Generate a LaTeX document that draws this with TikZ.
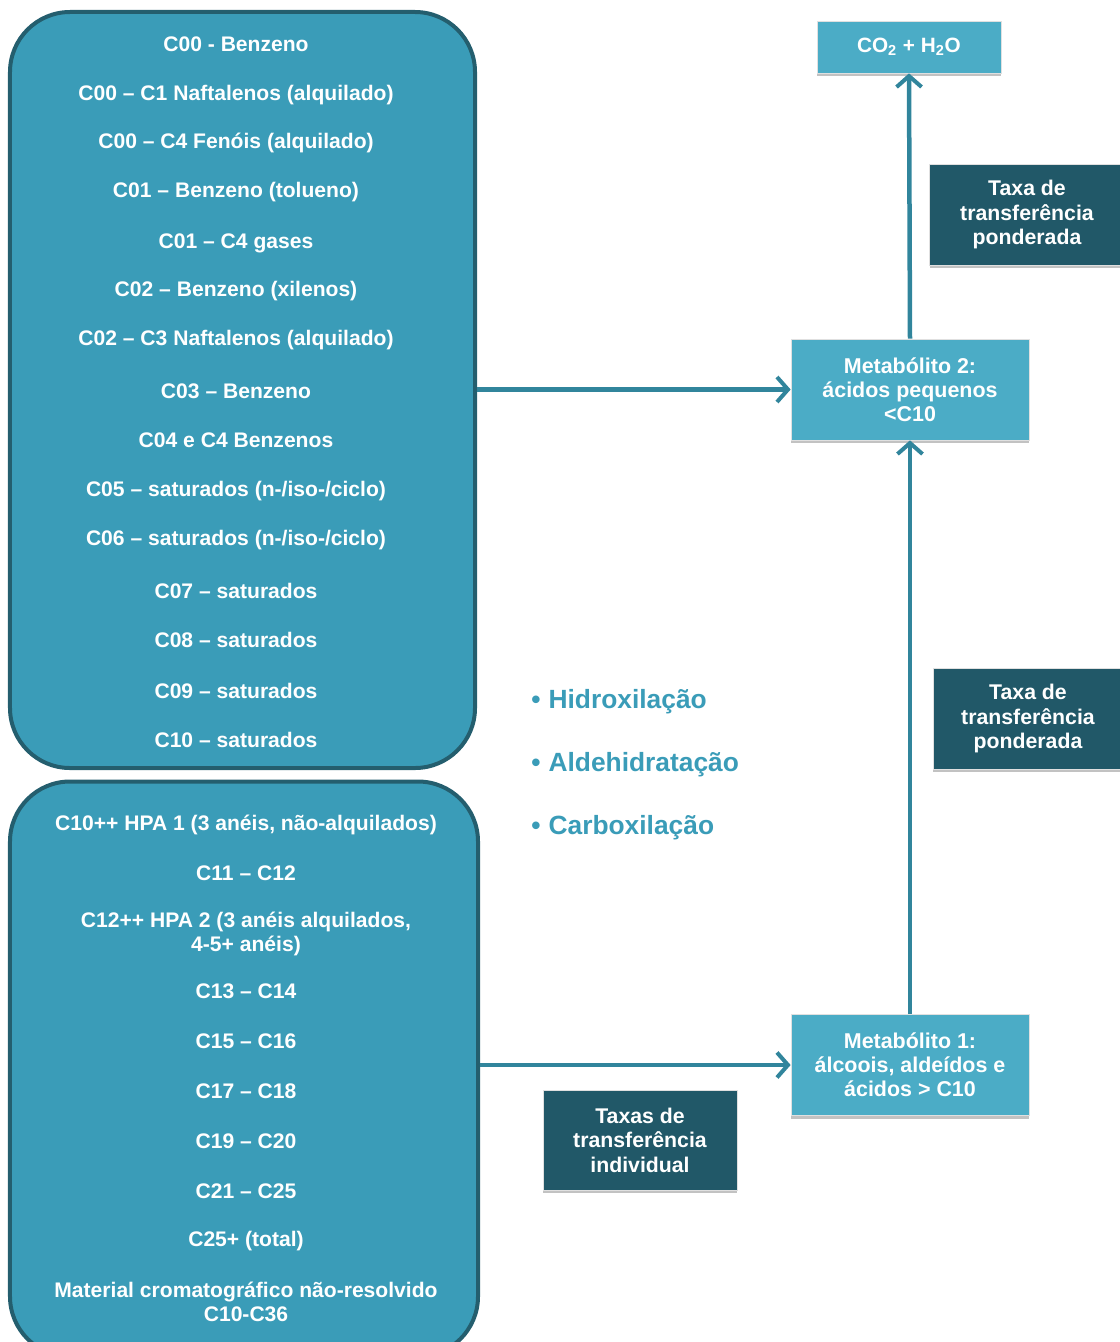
\documentclass[tikz,border=0pt]{standalone}
\usepackage{fontspec}
\setmainfont{Liberation Sans}
\usetikzlibrary{positioning,arrows.meta,shadows}
\definecolor{grpfill}{HTML}{3A9CB8}
\definecolor{grpline}{HTML}{245E6E}
\definecolor{metfill}{HTML}{4BACC6}
\definecolor{taxfill}{HTML}{215868}
\definecolor{flow}{HTML}{31859C}
\definecolor{bultxt}{HTML}{3A9CB8}
\tikzset{
  grpbox/.style ={draw=grpline, line width=0.8mm, rounded corners=12mm, fill=grpfill},
  item/.style   ={font=\fontsize{12}{13.6}\selectfont\bfseries, text=white, align=center, inner sep=0pt},
  met/.style    ={draw=white!88!black, line width=0.4pt, fill=metfill, text=white, align=center,
                  font=\fontsize{12.2}{13.6}\selectfont\bfseries,
                  drop shadow={shadow xshift=0pt, shadow yshift=-0.6mm, fill=black!40, opacity=0.6}},
  tax/.style    ={draw=white!88!black, line width=0.4pt, fill=taxfill, text=white, align=center,
                  font=\fontsize{12.1}{14}\selectfont\bfseries,
                  drop shadow={shadow xshift=0pt, shadow yshift=-0.6mm, fill=black!40, opacity=0.6}},
  bul/.style    ={font=\fontsize{15}{18}\selectfont\bfseries, text=bultxt, anchor=west, inner sep=0pt},
  flowarr/.style={-{Straight Barb[length=2.2mm, width=5mm, line width=0.8mm]}, line width=0.9mm, draw=flow},
}

\begin{document}
\begin{tikzpicture}[x=0.2mm, y=-0.2mm]
  \useasboundingbox (0,0) rectangle (1120,1342);

  % ---- left groups ----
  \node[grpbox, minimum width=93mm, minimum height=151.2mm] (upper) at (242.5,390) {};
  \node[grpbox, minimum width=93.6mm, minimum height=115mm] (lower) at (244,1069) {};

  \foreach \y/\t [count=\i] in {44/C00 - Benzeno,
      95/C00 -- C1 Naftalenos (alquilado),
      143/C00 -- C4 Fenóis (alquilado),
      192/C01 -- Benzeno (tolueno),
      243/C01 -- C4 gases,
      291/C02 -- Benzeno (xilenos),
      340/C02 -- C3 Naftalenos (alquilado),
      391/C03 -- Benzeno,
      440/C04 e C4 Benzenos,
      491/{C05 -- saturados (n-/iso-/ciclo)},
      540/{C06 -- saturados (n-/iso-/ciclo)},
      591/C07 -- saturados,
      640/C08 -- saturados,
      691/C09 -- saturados,
      740/C10 -- saturados}
    \node[item] (u\i) at (236,\y) {\t};

  \foreach \y/\t [count=\i] in {825/{C10++ HPA 1 (3 anéis, não-alquilados)},
      873/C11 -- C12,
      933.5/{C12++ HPA 2 (3 anéis alquilados,\\4-5+ anéis)},
      991/C13 -- C14,
      1041/C15 -- C16,
      1091/C17 -- C18,
      1141/C19 -- C20,
      1191/C21 -- C25,
      1241/C25+ (total),
      1302/{Material cromatográfico não-resolvido\\C10-C36}}
    \node[item] (l\i) at (246,\y) {\t};

  % ---- metabolites ----
  \node[met, font=\fontsize{11.8}{13}\selectfont\bfseries,
        minimum width=36.8mm, minimum height=10.4mm] (co2) at (909,47)
      {CO\textsubscript{2} + H\textsubscript{2}O};
  \node[met, minimum width=47.6mm, minimum height=20.2mm] (met2) at (910,389.5)
      {Metabólito 2:\\ácidos pequenos\\<C10};
  \node[met, minimum width=47.6mm, minimum height=20.2mm] (met1) at (910,1065)
      {Metabólito 1:\\álcoois, aldeídos e\\ácidos > C10};

  % ---- transfer rates ----
  \node[tax, minimum width=39mm, minimum height=20.2mm] (taxtop) at (1027,214.5)
      {Taxa de\\transferência\\ponderada};
  \node[tax, minimum width=38mm, minimum height=20.2mm] (taxmid) at (1028,718.5)
      {Taxa de\\transferência\\ponderada};
  \node[tax, minimum width=38.8mm, minimum height=20mm] (taxind) at (640,1140)
      {Taxas de\\transferência\\individual};

  % ---- processes ----
  \node[bul] (hidrox) at (531,702) {•\hspace{1.6mm}Hidroxilação};
  \node[bul] (aldeh)  at (531,765) {•\hspace{1.6mm}Aldehidratação};
  \node[bul] (carbox) at (531,828) {•\hspace{1.6mm}Carboxilação};

  % ---- flows ----
  \draw[flowarr] (upper.east |- met2.west) -- (met2.west);
  \draw[flowarr] (lower.east |- met1.west) -- (met1.west);
  \draw[flowarr] (met1.north) -- (met2.south);
  \draw[flowarr] (met2.north) -- (co2.south);

\end{tikzpicture}
\end{document}
